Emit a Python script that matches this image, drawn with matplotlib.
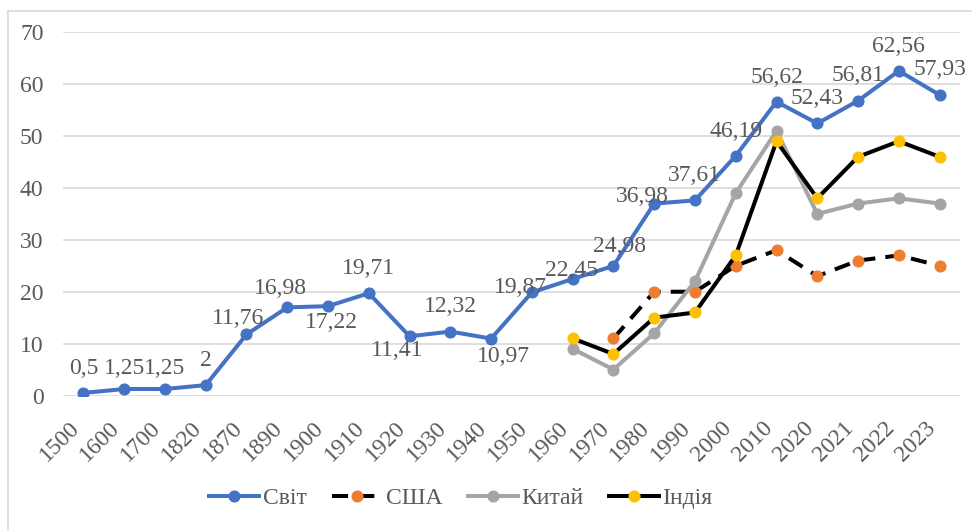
import matplotlib
matplotlib.use("Agg")
import matplotlib.pyplot as plt
from matplotlib.lines import Line2D
import numpy as np

plt.rcParams['font.family'] = ['Liberation Serif', 'DejaVu Serif']

years = ["1500", "1600", "1700", "1820", "1870", "1890", "1900", "1910", "1920", "1930",
         "1940", "1950", "1960", "1970", "1980", "1990", "2000", "2010", "2020", "2021",
         "2022", "2023"]
world = [0.5, 1.25, 1.25, 2, 11.76, 16.98, 17.22, 19.71, 11.41, 12.32,
         10.97, 19.87, 22.45, 24.98, 36.98, 37.61, 46.19, 56.62, 52.43, 56.81,
         62.56, 57.93]
world_labels = ["0,5", "1,25", "1,25", "2", "11,76", "16,98", "17,22", "19,71", "11,41", "12,32",
                "10,97", "19,87", "22,45", "24,98", "36,98", "37,61", "46,19", "56,62", "52,43",
                "56,81", "62,56", "57,93"]
usa = [None] * 13 + [11, 20, 20, 25, 28, 23, 26, 27, 25]
china = [None] * 12 + [9, 5, 12, 22, 39, 51, 35, 37, 38, 37]
india = [None] * 12 + [11, 8, 15, 16, 27, 49, 38, 46, 49, 46]
series_names = ["Світ", "США", "Китай", "Індія"]

# label placement (pixel offsets of the digit centre from the marker), style only
label_dx = [0, 0, 0, 0, -8, -7, 3, 0, -12, 0, 12, -11, -1, 6, -12, -1, 0, 0, 0, 0, 0, 0]
label_dy = [-27, -23, -23, -27, -18, -21, 14, -27, 12, -28, 15, -7, -11, -22, -10, -27, -27,
            -27, -27, -28, -27, -28]

W, H = 972, 531
fig = plt.figure(figsize=(W / 100, H / 100), dpi=100)
ax = fig.add_axes([63 / W, 1 - 395.5 / H, (960 - 63) / W, (395.5 - 32.3) / H])

x = np.arange(len(years))
txt = '#595959'
fs = 17
lw = 2.9
ms = 7.7
px2pt = 0.72

def arr(v):
    return np.array([np.nan if a is None else a for a in v], dtype=float)

ax.plot(x, arr(world), color='#4472C4', lw=lw, marker='o', ms=ms, mfc='#4472C4', mec='#4472C4', zorder=3)
ax.plot(x, arr(usa), color='black', lw=lw, ls=(0, (4, 2.5)), marker='o', ms=ms, mfc='#ED7D31', mec='#ED7D31', zorder=4)
ax.plot(x, arr(china), color='#A5A5A5', lw=lw, marker='o', ms=ms, mfc='#A5A5A5', mec='#A5A5A5', zorder=5)
ax.plot(x, arr(india), color='black', lw=lw, marker='o', ms=ms, mfc='#FFC000', mec='#FFC000', zorder=6)

for xi, v, lab, dx, dy in zip(x, world, world_labels, label_dx, label_dy):
    ax.annotate(lab, (xi, v), xytext=(dx * px2pt, -(dy + 8) * px2pt), textcoords='offset points',
                ha='center', va='baseline', fontsize=fs, color=txt, zorder=10)

ax.set_xlim(-0.5, len(years) - 0.5)
ax.set_ylim(0, 70)
ax.set_yticks(range(0, 71, 10))
ax.set_xticks(x)
ax.set_xticklabels(years, rotation=45, ha='right', va='top')
ax.tick_params(axis='both', length=0, labelsize=fs, labelcolor=txt)
ax.tick_params(axis='y', pad=14)
ax.tick_params(axis='x', pad=15.5)
ax.grid(axis='y', color='#D9D9D9', lw=1.2)
ax.set_axisbelow(True)
for s in ax.spines.values():
    s.set_visible(False)

handles = [
    Line2D([], [], color='#4472C4', lw=lw, marker='o', ms=ms, mfc='#4472C4', mec='#4472C4'),
    Line2D([], [], color='black', lw=lw, ls=(0, (4, 2.5)), marker='o', ms=ms, mfc='#ED7D31', mec='#ED7D31'),
    Line2D([], [], color='#A5A5A5', lw=lw, marker='o', ms=ms, mfc='#A5A5A5', mec='#A5A5A5'),
    Line2D([], [], color='black', lw=lw, marker='o', ms=ms, mfc='#FFC000', mec='#FFC000'),
]
leg = fig.legend(handles, series_names, loc='center', bbox_to_anchor=(461 / W, 1 - 498 / H),
                 ncol=4, frameon=False, fontsize=fs, handlelength=2.1, handletextpad=0.15,
                 columnspacing=1.1, labelcolor=txt)

fig.add_artist(Line2D([7.5 / W, 7.5 / W], [0, 1 - 11 / H], transform=fig.transFigure, color='#D9D9D9', lw=1.2))
fig.add_artist(Line2D([7.5 / W, 1], [1 - 11 / H, 1 - 11 / H], transform=fig.transFigure, color='#D9D9D9', lw=1.2))

fig.savefig('out.png', dpi=100, facecolor='white')
